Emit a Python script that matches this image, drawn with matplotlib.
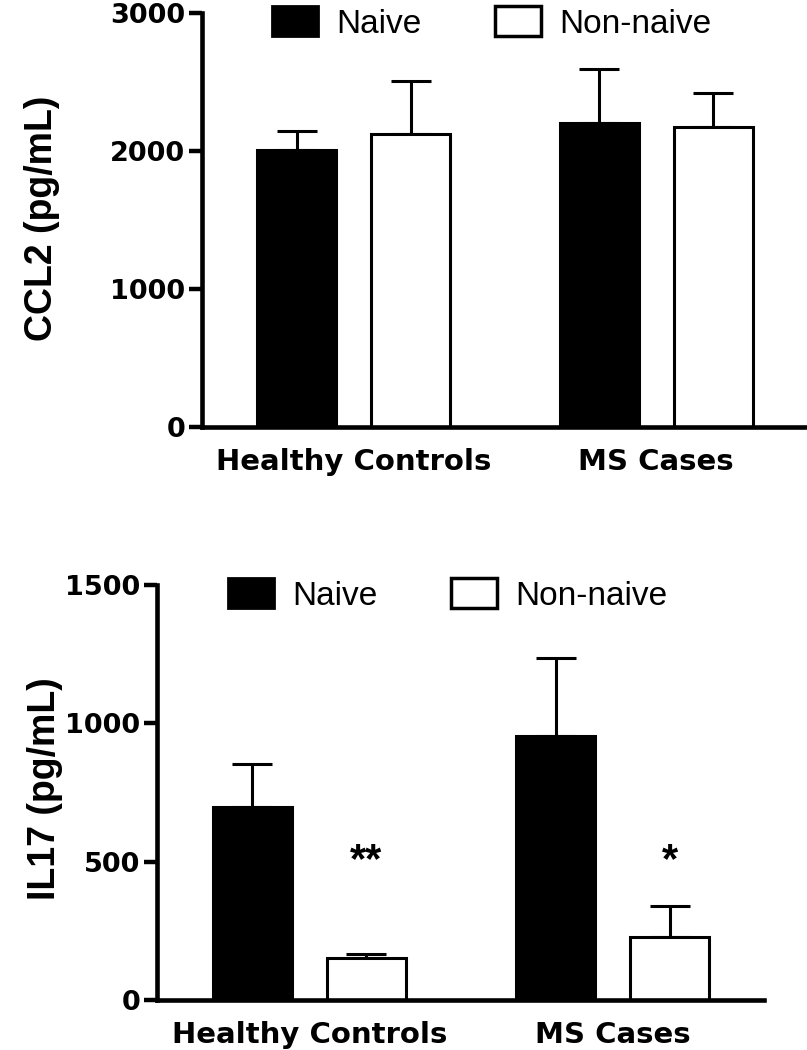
import matplotlib
matplotlib.use('Agg')
import matplotlib.pyplot as plt
from matplotlib.patches import Patch

plt.rcParams['font.family'] = ['Liberation Sans', 'DejaVu Sans']

# Data
groups = ['Healthy Controls', 'MS Cases']
series = ['Naive', 'Non-naive']

ccl2_naive = [2007, 2205]
ccl2_naive_err = [138, 391]
ccl2_nonnaive = [2121, 2176]
ccl2_nonnaive_err = [388, 242]

il17_naive = [696, 955]
il17_naive_err = [157, 280]
il17_nonnaive = [151, 227]
il17_nonnaive_err = [14, 114]
il17_marks = ['**', '*']

group_pos = [1.52, 4.55]
offset = 0.57
width = 0.79

fig = plt.figure(figsize=(8.07, 10.5), dpi=100)
ax1 = fig.add_axes([202 / 807, 1 - 427 / 1050, 605 / 807, 414 / 1050])
ax2 = fig.add_axes([157 / 807, 1 - 1000 / 1050, 607 / 807, 415 / 1050])


def draw_panel(ax, naive, naive_err, non, non_err, ymax, step):
    xn = [g - offset for g in group_pos]
    xw = [g + offset for g in group_pos]
    ekw = dict(ecolor='black', elinewidth=2.2, capsize=14.5, capthick=2.2, fmt='none', zorder=1)
    ax.errorbar(xn, naive, yerr=[[0] * len(naive), naive_err], **ekw)
    ax.errorbar(xw, non, yerr=[[0] * len(non), non_err], **ekw)
    ax.bar(xn, naive, width=width, color='black', edgecolor='black', linewidth=2.2, zorder=2)
    ax.bar(xw, non, width=width, color='white', edgecolor='black', linewidth=2.2, zorder=2)
    ax.set_xlim(0, 6.06)
    ax.set_ylim(0, ymax)
    ax.set_yticks(range(0, ymax + 1, step))
    ax.set_xticks(group_pos)
    ax.set_xticklabels(groups, fontsize=21, fontweight='bold', family='DejaVu Sans')
    for lbl in ax.get_yticklabels():
        lbl.set_fontsize(19.5)
        lbl.set_fontweight('bold')
        lbl.set_family('DejaVu Sans')
    ax.tick_params(axis='x', length=0, pad=15)
    ax.tick_params(axis='y', length=9.5, width=3.2, pad=2.5)
    for s in ['top', 'right']:
        ax.spines[s].set_visible(False)
    for s in ['left', 'bottom']:
        ax.spines[s].set_linewidth(3.3)
    ax.patch.set_alpha(0)


draw_panel(ax1, ccl2_naive, ccl2_naive_err, ccl2_nonnaive, ccl2_nonnaive_err, 3000, 1000)
draw_panel(ax2, il17_naive, il17_naive_err, il17_nonnaive, il17_nonnaive_err, 1500, 500)

# significance marks above the non-naive bars
for g, m in zip(group_pos, il17_marks):
    ax2.text(g + offset, 463, m, ha='center', va='baseline', fontsize=30, fontweight='bold')

fig.text(42 / 807, 1 - 218 / 1050, 'CCL2 (pg/mL)', rotation=90, ha='center', va='center',
         fontsize=27, fontweight='bold')
fig.text(45 / 807, 1 - 789 / 1050, 'IL17 (pg/mL)', rotation=90, ha='center', va='center',
         fontsize=27, fontweight='bold')

handles = [Patch(facecolor='black', edgecolor='black', linewidth=2),
           Patch(facecolor='white', edgecolor='black', linewidth=2.5)]
leg_kw = dict(ncol=2, frameon=False, fontsize=24, handlelength=1.38, handleheight=1.0,
              handletextpad=0.55, columnspacing=2.2, borderpad=0, borderaxespad=0,
              loc='center left', bbox_transform=fig.transFigure)
fig.legend(handles, series, bbox_to_anchor=(272 / 807, 1 - 23 / 1050), **leg_kw)
fig.legend(handles, series, bbox_to_anchor=(228 / 807, 1 - 595 / 1050), **leg_kw)

plt.savefig('out.png', dpi=100)
